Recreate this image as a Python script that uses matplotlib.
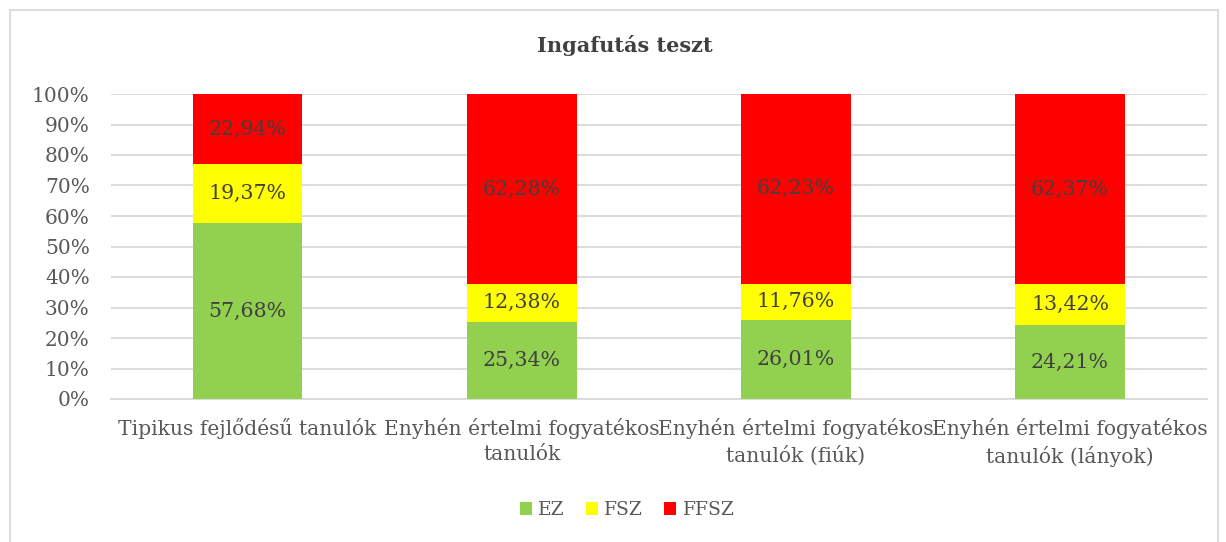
import matplotlib
matplotlib.use("Agg")
from matplotlib import pyplot as plt
from matplotlib.patches import Rectangle
import numpy as np

categories = ["Tipikus fejlődésű tanulók", "Enyhén értelmi fogyatékos\ntanulók",
              "Enyhén értelmi fogyatékos\ntanulók (fiúk)", "Enyhén értelmi fogyatékos\ntanulók (lányok)"]
series_names = ["EZ", "FSZ", "FFSZ"]
ez = [57.68, 25.34, 26.01, 24.21]
fsz = [19.37, 12.38, 11.76, 13.42]
ffsz = [22.94, 62.28, 62.23, 62.37]
colors = ["#92D050", "#FFFF00", "#FF0000"]

plt.rcParams['font.family'] = ['DejaVu Serif']
fig = plt.figure(figsize=(12.26, 5.42), dpi=100)
ax = fig.add_axes([110.5/1226, 1-399/542, (1207-110.5)/1226, (399-94)/542])

x = np.arange(len(categories))
data = [ez, fsz, ffsz]
total = np.array(ez) + np.array(fsz) + np.array(ffsz)
bottom = np.zeros(len(categories))
for vals, name, c in zip(data, series_names, colors):
    h = np.array(vals) / total * 100
    ax.bar(x, h, 0.4, bottom=bottom, color=c, label=name, zorder=3)
    for xi, b, hh, val in zip(x, bottom, h, vals):
        ax.text(xi, b + hh/2, ("%.2f%%" % val).replace(".", ","), ha="center", va="center",
                fontsize=14.8, color="#404040", zorder=4)
    bottom = bottom + h

ax.set_xlim(-0.5, 3.5)
ax.set_ylim(0, 100)
ax.set_yticks(range(0, 101, 10))
ax.set_yticklabels(["%d%%" % t for t in range(0, 101, 10)], fontsize=14.5, color="#595959")
ax.set_xticks(x)
ax.set_xticklabels(categories, fontsize=14.6, color="#595959", linespacing=1.4)
ax.tick_params(axis="x", length=0, pad=14)
ax.tick_params(axis="y", length=0, pad=15)
ax.grid(axis="y", color="#D9D9D9", linewidth=1.3, zorder=0)
for s in ["top", "right", "left"]:
    ax.spines[s].set_visible(False)
ax.spines["bottom"].set_color("#D9D9D9")
ax.spines["bottom"].set_linewidth(1.3)

fig.text(625/1226, 1-46/542, "Ingafutás teszt", ha="center", va="center",
         fontsize=15, fontweight="bold", color="#404040")
fig.legend(loc="center", bbox_to_anchor=(627/1226, 1-510/542), ncol=3, frameon=False,
           fontsize=13.5, labelcolor="#595959", handlelength=0.65, handleheight=0.65,
           handletextpad=0.35, columnspacing=1.1)
fig.add_artist(Rectangle((10/1226, -0.01), 1208/1226, 1-10/542+0.01, transform=fig.transFigure,
                         fill=False, edgecolor="#D9D9D9", linewidth=1.3))
fig.savefig("out.png", dpi=100)
